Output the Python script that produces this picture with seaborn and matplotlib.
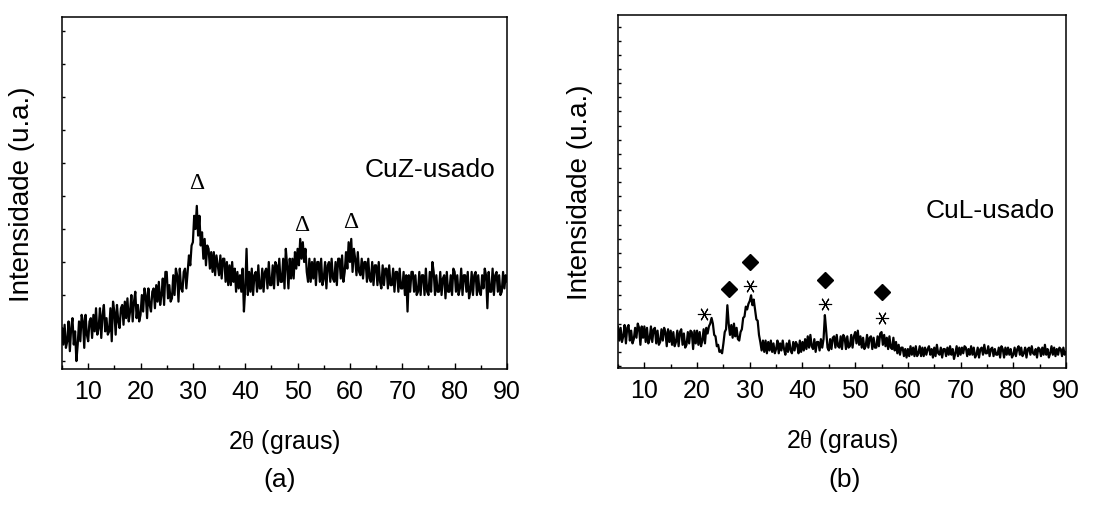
import numpy as np
import pandas as pd
import matplotlib
matplotlib.use("Agg")
import matplotlib.pyplot as plt
from matplotlib.ticker import MultipleLocator
import seaborn as sns

# ---------------- data ----------------
two_theta = np.arange(5.0, 90.001, 0.25)

# one row per degree (5.00, 5.25, 5.50, 5.75 ...)
cuz_intensity = [
    10, 5, 11, 4,      # 5
    6, 12, 3, 10,      # 6
    13, 5, 9, 0,       # 7
    5, 12, 6, 14,      # 8
    12, 4, 14, 8,      # 9
    6, 12, 13, 7,      # 10
    14, 9, 16, 8,      # 11
    10, 16, 7, 14,     # 12
    17, 9, 13, 8,      # 13
    9, 16, 6, 18,      # 14
    15, 8, 17, 12,     # 15
    10, 16, 17, 11,    # 16
    18, 13, 19, 12,    # 17
    15, 20, 12, 18,    # 18
    21, 13, 17, 12,    # 19
    14, 20, 15, 22,    # 20
    20, 13, 22, 17,    # 21
    15, 21, 22, 16,    # 22
    23, 18, 24, 17,    # 23
    20, 25, 17, 27,    # 24
    27, 19, 23, 18,    # 25
    19, 26, 20, 28,    # 26
    26, 18, 28, 22,    # 27
    21, 27, 28, 22,    # 28
    27, 32, 29, 35,    # 29
    36, 44, 40, 47,    # 30
    38, 44, 35, 39,    # 31
    31, 37, 29, 35,    # 32
    34, 28, 33, 27,    # 33
    33, 26, 32, 29,    # 34
    26, 32, 25, 31,    # 35
    31, 24, 30, 23,    # 36
    29, 23, 30, 24,    # 37
    28, 21, 27, 22,    # 38
    26, 21, 28, 15,    # 39
    22, 34, 20, 27,    # 40
    21, 28, 20, 26,    # 41
    27, 21, 29, 22,    # 42
    22, 28, 21, 27,    # 43
    28, 22, 30, 23,    # 44
    23, 29, 22, 30,    # 45
    29, 23, 31, 24,    # 46
    24, 31, 22, 34,    # 47
    29, 22, 31, 25,    # 48
    31, 25, 33, 28,    # 49
    34, 29, 37, 31,    # 50
    36, 30, 34, 27,    # 51
    24, 31, 24, 30,    # 52
    25, 31, 23, 30,    # 53
    30, 24, 31, 23,    # 54
    25, 30, 22, 29,    # 55
    30, 24, 31, 25,    # 56
    24, 30, 23, 31,    # 57
    31, 25, 32, 24,    # 58
    27, 33, 28, 36,    # 59
    30, 37, 27, 34,    # 60
    31, 26, 33, 27,    # 61
    26, 31, 25, 30,    # 62
    30, 24, 31, 25,    # 63
    24, 30, 23, 29,    # 64
    29, 23, 30, 24,    # 65
    22, 29, 23, 28,    # 66
    28, 22, 29, 23,    # 67
    23, 28, 21, 27,    # 68
    27, 21, 28, 22,    # 69
    22, 27, 20, 26,    # 70
    15, 26, 21, 27,    # 71
    27, 21, 26, 20,    # 72
    21, 27, 20, 26,    # 73
    26, 20, 28, 21,    # 74
    20, 27, 21, 30,    # 75
    27, 20, 26, 21,    # 76
    21, 27, 20, 25,    # 77
    26, 19, 27, 21,    # 78
    21, 26, 20, 28,    # 79
    27, 21, 26, 20,    # 80
    22, 28, 20, 26,    # 81
    26, 21, 27, 19,    # 82
    21, 27, 20, 26,    # 83
    27, 20, 26, 21,    # 84
    20, 26, 22, 28,    # 85
    26, 16, 27, 21,    # 86
    21, 28, 20, 26,    # 87
    27, 21, 26, 20,    # 88
    21, 27, 22, 26,    # 89
    24,                # 90
]

cul_intensity = [
    28, 18, 27, 17,    # 5
    21, 29, 16, 27,    # 6
    29, 18, 25, 16,    # 7
    19, 27, 20, 30,    # 8
    27, 15, 28, 20,    # 9
    28, 17, 27, 16,    # 10
    19, 28, 17, 26,    # 11
    27, 16, 25, 15,    # 12
    17, 26, 18, 27,    # 13
    24, 14, 26, 17,    # 14
    25, 15, 24, 14,    # 15
    17, 25, 14, 24,    # 16
    26, 15, 23, 13,    # 17
    15, 24, 16, 25,    # 18
    24, 12, 25, 16,    # 19
    25, 15, 24, 14,    # 20
    18, 26, 16, 27,    # 21
    23, 28, 30, 34,    # 22
    30, 22, 21, 14,    # 23
    15, 10, 11, 9,     # 24
    16, 24, 26, 43,    # 25
    30, 22, 29, 20,    # 26
    30, 21, 27, 19,    # 27
    18, 24, 26, 34,    # 28
    35, 42, 40, 44,    # 29
    46, 50, 43, 47,    # 30
    40, 33, 32, 22,    # 31
    17, 11, 18, 10,    # 32
    18, 9, 17, 11,     # 33
    18, 10, 16, 9,     # 34
    12, 18, 9, 16,     # 35
    11, 18, 12, 8,     # 36
    16, 10, 18, 11,    # 37
    9, 17, 11, 17,     # 38
    15, 9, 18, 10,     # 39
    17, 11, 19, 12,    # 40
    21, 13, 22, 14,    # 41
    12, 19, 10, 17,    # 42
    17, 11, 19, 13,    # 43
    19, 36, 25, 13,    # 44
    11, 19, 12, 20,    # 45
    21, 13, 22, 14,    # 46
    13, 21, 12, 22,    # 47
    20, 12, 21, 13,    # 48
    14, 22, 13, 21,    # 49
    24, 16, 25, 15,    # 50
    21, 13, 20, 12,    # 51
    14, 22, 13, 20,    # 52
    21, 12, 20, 13,    # 53
    13, 21, 14, 23,    # 54
    24, 15, 22, 14,    # 55
    20, 12, 21, 13,    # 56
    12, 20, 11, 17,    # 57
    9, 15, 8, 13,      # 58
    13, 7, 12, 6,      # 59
    12, 7, 14, 8,      # 60
    13, 7, 14, 7,      # 61
    9, 14, 7, 13,      # 62
    7, 13, 8, 12,      # 63
    14, 8, 12, 6,      # 64
    13, 7, 15, 9,      # 65
    8, 13, 6, 12,      # 66
    12, 7, 13, 8,      # 67
    14, 8, 12, 5,      # 68
    9, 14, 7, 13,      # 69
    8, 13, 9, 14,      # 70
    13, 7, 12, 8,      # 71
    14, 8, 13, 6,      # 72
    8, 13, 6, 12,      # 73
    13, 8, 15, 9,      # 74
    9, 14, 7, 12,      # 75
    13, 7, 12, 8,      # 76
    8, 13, 6, 14,      # 77
    12, 6, 13, 8,      # 78
    13, 8, 12, 6,      # 79
    8, 13, 7, 12,      # 80
    14, 8, 13, 7,      # 81
    9, 13, 6, 12,      # 82
    13, 8, 14, 9,      # 83
    8, 12, 6, 13,      # 84
    12, 7, 13, 8,      # 85
    15, 8, 12, 6,      # 86
    9, 14, 8, 13,      # 87
    7, 12, 8, 13,      # 88
    12, 7, 13, 8,      # 89
    10,                # 90
]

x_ticks = [10, 20, 30, 40, 50, 60, 70, 80, 90]

# peak markers
cuz_delta_x = [30.8, 50.8, 60.2]
cuz_delta_y = [54.2, 41.5, 42.4]

cul_diamond_x = [26.0, 30.1, 44.3, 55.0]
cul_diamond_y = [54.6, 73.8, 61.0, 52.5]
cul_star_x = [21.3, 30.0, 44.3, 55.0]
cul_star_y = [36.9, 56.7, 44.0, 34.0]

sample_labels = ["CuZ-usado", "CuL-usado"]
panel_labels = ["(a)", "(b)"]
x_label = r"2$\mathrm{\theta}$ (graus)"
y_label = "Intensidade (u.a.)"

n = min(len(two_theta), len(cuz_intensity), len(cul_intensity))
df_a = pd.DataFrame({"x": two_theta[:n], "y": cuz_intensity[:n]})
df_b = pd.DataFrame({"x": two_theta[:n], "y": cul_intensity[:n]})

# ---------------- style ----------------
sns.set_theme(style="ticks")
plt.rcParams["font.family"] = ["Liberation Sans", "DejaVu Sans"]
plt.rcParams["mathtext.fontset"] = "custom"
plt.rcParams["mathtext.rm"] = "Liberation Serif"
plt.rcParams["mathtext.it"] = "Liberation Serif:italic"
plt.rcParams["axes.linewidth"] = 1.1
plt.rcParams["axes.edgecolor"] = "black"
plt.rcParams["text.color"] = "black"
plt.rcParams["axes.labelcolor"] = "black"
plt.rcParams["xtick.color"] = "black"
plt.rcParams["ytick.color"] = "black"
plt.rcParams["xtick.labelcolor"] = "black"

fig = plt.figure(figsize=(11.18, 5.06), dpi=100)
W, H = 1118.0, 506.0

def px_axes(l, r, t, b):
    return fig.add_axes([l / W, (H - b) / H, (r - l) / W, (b - t) / H])

ax_a = px_axes(62, 507, 18, 370)
ax_b = px_axes(618, 1066, 16, 369)

for ax, df in ((ax_a, df_a), (ax_b, df_b)):
    sns.lineplot(data=df, x="x", y="y", ax=ax, color="black", linewidth=1.6,
                 estimator=None, sort=False, legend=False)
    ax.set_xlim(5, 90)
    ax.set_xticks(x_ticks)
    ax.xaxis.set_minor_locator(MultipleLocator(5))
    ax.tick_params(axis="both", which="both", direction="in", top=False, right=False,
                   colors="black", width=1.0)
    ax.tick_params(axis="x", which="major", length=4, labelsize=18, pad=7)
    ax.tick_params(axis="x", which="minor", length=3)
    ax.tick_params(axis="y", which="major", length=2.5, labelleft=False)
    for sp in ax.spines.values():
        sp.set_visible(True)
        sp.set_color("black")
    ax.set_xlabel(x_label, fontsize=18, color="black")
    ax.set_ylabel(y_label, fontsize=20, color="black")

ax_a.set_ylim(-2.4, 104.2)
ax_a.yaxis.set_major_locator(MultipleLocator(10))
ax_b.set_ylim(-1.4, 248.2)
ax_b.yaxis.set_major_locator(MultipleLocator(10))

ax_a.xaxis.set_label_coords(0.5, -0.165)
ax_b.xaxis.set_label_coords(0.5, -0.165)
ax_a.yaxis.set_label_coords(-0.061, 0.5)
ax_b.yaxis.set_label_coords(-0.056, 0.5)

# annotations
for x, y in zip(cuz_delta_x, cuz_delta_y):
    ax_a.text(x, y, "\u0394", family="Liberation Serif", fontsize=17,
              ha="center", va="center", color="black")
ax_a.text(75.3, 58.2, sample_labels[0], fontsize=19, ha="center", va="center",
          color="black")

ax_b.plot(cul_diamond_x, cul_diamond_y, marker="D", linestyle="none",
          markersize=8.5, color="black")
ax_b.plot(cul_star_x, cul_star_y, marker=(6, 2, 30), linestyle="none",
          markersize=9.5, markeredgewidth=0.8, color="black")
ax_b.text(75.6, 110, sample_labels[1], fontsize=19, ha="center", va="center",
          color="black")

fig.text(280 / W, 1 - 480 / H, panel_labels[0], fontsize=19, ha="center", va="center",
         color="black")
fig.text(845 / W, 1 - 480 / H, panel_labels[1], fontsize=19, ha="center", va="center",
         color="black")

fig.savefig("out.png", dpi=100, facecolor="white")
